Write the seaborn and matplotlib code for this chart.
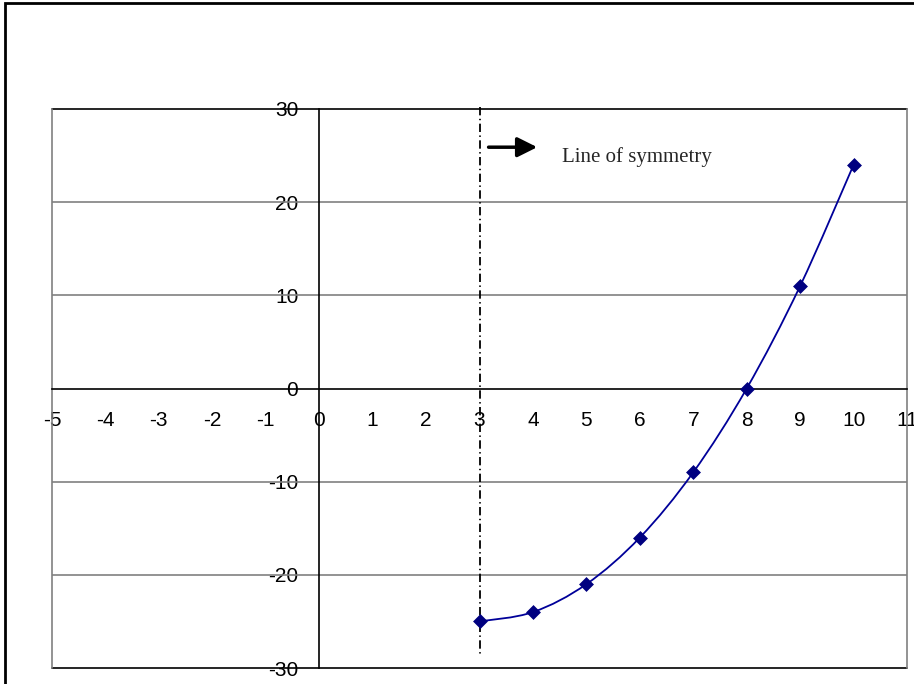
import numpy as np
import matplotlib
matplotlib.use("Agg")
import matplotlib.pyplot as plt
import seaborn as sns
import pandas as pd
from matplotlib.path import Path
from matplotlib.patches import PathPatch, Rectangle

# data: y = x^2 - 6x - 16
x_vals = [3, 4, 5, 6, 7, 8, 9, 10]
y_vals = [-25, -24, -21, -16, -9, 0, 11, 24]
x_ticks = list(range(-5, 12))
y_ticks = [-30, -20, -10, 0, 10, 20, 30]
sym_x = 3
note_text = "Line of symmetry"

sns.set_style("white")
plt.rcParams["font.family"] = ["Liberation Sans", "DejaVu Sans"]
plt.rcParams["lines.scale_dashes"] = False
plt.rcParams["axes.unicode_minus"] = False

df = pd.DataFrame({"x": x_vals, "y": y_vals})

fig = plt.figure(figsize=(9.14, 6.84), dpi=100)
ax = fig.add_axes([52 / 914, 1 - 668 / 684, 855 / 914, 559 / 684])
ax.set_xlim(-5, 11)
ax.set_ylim(-30, 30)

# gridlines + plot area border
for yv in y_ticks[1:-1]:
    if yv != 0:
        ax.axhline(yv, color="#808080", lw=1.2, zorder=1)
ax.axhline(30, color="black", lw=1.2, zorder=2, clip_on=False)
ax.axhline(-30, color="black", lw=1.2, zorder=2, clip_on=False)
ax.axvline(-5, color="#808080", lw=1.2, zorder=2, clip_on=False)
ax.axvline(11, color="#808080", lw=1.2, zorder=2, clip_on=False)

# axes cross at zero
for s in ["top", "right"]:
    ax.spines[s].set_visible(False)
ax.spines["left"].set_position(("data", 0))
ax.spines["bottom"].set_position(("data", 0))
ax.spines["left"].set_color("black")
ax.spines["bottom"].set_color("black")
ax.spines["left"].set_linewidth(1.2)
ax.spines["bottom"].set_linewidth(1.2)

ax.set_xticks(x_ticks)
ax.set_yticks(y_ticks)
ax.tick_params(axis="x", direction="out", length=4.5, width=1, pad=12,
               labelsize=15, colors="black")
ax.tick_params(axis="y", direction="out", length=5, width=1, pad=10,
               labelsize=15, colors="black")

# smoothed series (Excel-like bezier through the points)
pts = np.column_stack([x_vals, y_vals]).astype(float)
verts = [pts[0]]
codes = [Path.MOVETO]
n = len(pts)
for i in range(n - 1):
    p0 = pts[i - 1] if i > 0 else pts[i]
    p3 = pts[i + 2] if i + 2 < n else pts[i + 1]
    c1 = pts[i] + (pts[i + 1] - p0) / 6
    c2 = pts[i + 1] - (p3 - pts[i]) / 6
    verts += [c1, c2, pts[i + 1]]
    codes += [Path.CURVE4] * 3
ax.add_patch(PathPatch(Path(verts, codes), fill=False, edgecolor="#000099",
                       lw=1.3, zorder=4))

sns.scatterplot(data=df, x="x", y="y", marker="D", s=50, color="#000080",
                edgecolor="#000080", linewidth=0.5, zorder=5, ax=ax, legend=False)
ax.set_xlabel("")
ax.set_ylabel("")

# line of symmetry + label
ax.plot([sym_x, sym_x], [30.2, -28.8], color="black", lw=1.3,
        linestyle=(0, (6, 2.5, 1, 2.5)), zorder=3, clip_on=False)
ax.annotate("", xy=(4.08, 25.9), xytext=(3.17, 25.9),
            arrowprops=dict(arrowstyle="-|>", lw=2.5, color="black",
                            mutation_scale=30, shrinkA=0, shrinkB=0))
ax.text(4.54, 24.3, note_text, family=["Liberation Serif", "DejaVu Serif"],
        fontsize=15, va="baseline", ha="left")

# outer chart frame (only left and top visible in the crop)
fig.add_artist(Rectangle((5 / 914, -0.1), 1.0, 1.1 - 3 / 684,
                         transform=fig.transFigure, fill=False,
                         edgecolor="black", lw=2))

fig.savefig("out.png", dpi=100)
